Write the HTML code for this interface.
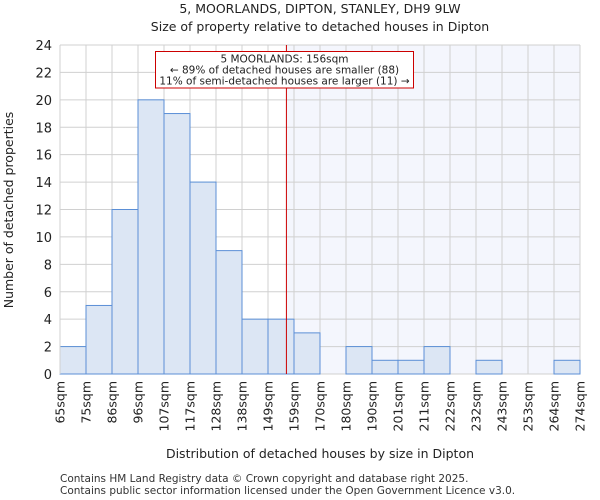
<!DOCTYPE html>
<html><head><meta charset="utf-8"><style>
body{margin:0;background:#fff;}
svg{display:block;font-family:"DejaVu Sans","Liberation Sans",sans-serif;}
</style></head><body>
<svg id="chart" width="600" height="500">
<text x="320" y="13" text-anchor="middle" font-size="12.5" fill="#222">5, MOORLANDS, DIPTON, STANLEY, DH9 9LW</text>
<text x="320" y="31" text-anchor="middle" font-size="12.5" fill="#222">Size of property relative to detached houses in Dipton</text>
<g id="plot"></g>
<text x="320" y="458" text-anchor="middle" font-size="12.5" fill="#222">Distribution of detached houses by size in Dipton</text>
<text transform="translate(13,210) rotate(-90)" text-anchor="middle" font-size="12.5" fill="#222">Number of detached properties</text>
<text x="60" y="482" font-size="10.5" fill="#333">Contains HM Land Registry data © Crown copyright and database right 2025.</text>
<text x="60" y="494" font-size="10.5" fill="#333">Contains public sector information licensed under the Open Government Licence v3.0.</text>
</svg>
<script>
const binLabels=["65sqm","75sqm","86sqm","96sqm","107sqm","117sqm","128sqm","138sqm","149sqm","159sqm","170sqm","180sqm","190sqm","201sqm","211sqm","222sqm","232sqm","243sqm","253sqm","264sqm","274sqm"];
const counts=[2,5,12,20,19,14,9,4,4,3,0,2,1,1,2,0,1,0,0,1];
const yTicks=[0,2,4,6,8,10,12,14,16,18,20,22,24];
const xMin=65, xMax=274, markerValue=156;
const L=60,R=580,T=45,B=374,yMax=24;
const NS="http://www.w3.org/2000/svg";
const g=document.getElementById('plot');
const xs=v=>L+(v-xMin)/(xMax-xMin)*(R-L);
const xi=i=>L+i*(R-L)/counts.length;
const ys=v=>B-v/yMax*(B-T);
function mk(t,a){const e=document.createElementNS(NS,t);for(const k in a)e.setAttribute(k,a[k]);g.appendChild(e);return e;}
const mx=xs(markerValue);
let e=mk('rect',{x:mx,y:T,width:R-mx,height:B-T,fill:'#f4f6fd'});


yTicks.forEach(v=>{
 let l=mk('line',{x1:L,x2:R,y1:ys(v),y2:ys(v),stroke:'#d0d0d0','stroke-width':1});
 
 
 let t=mk('text',{x:L-8,y:ys(v)+5,'text-anchor':'end','font-size':13,fill:'#222'});
 t.textContent=v;
 
 
});
binLabels.forEach((s,i)=>{
 const x=xi(i);
 let l=mk('line',{x1:x,x2:x,y1:T,y2:B,stroke:'#d0d0d0','stroke-width':1});
 
 
 let t=mk('text',{transform:`translate(${x+4.5},381) rotate(-90)`,'text-anchor':'end','font-size':12.5,fill:'#222'});
 t.textContent=s;
 
 
});
counts.forEach((c,i)=>{
 if(c<=0)return;
 let r=mk('rect',{x:xi(i),y:ys(c),width:xi(i+1)-xi(i),height:B-ys(c),fill:'#dce6f4',stroke:'#5b8fd6','stroke-width':1});
 
 
});
e=mk('line',{x1:mx,x2:mx,y1:T,y2:B,stroke:'#cc0000','stroke-width':1});


e=mk('rect',{x:155.5,y:51.5,width:258,height:36.5,fill:'#fff',stroke:'#cc0000','stroke-width':1});


["5 MOORLANDS: 156sqm","← 89% of detached houses are smaller (88)","11% of semi-detached houses are larger (11) →"].forEach((s,k)=>{
 let t=mk('text',{x:284.5,y:62.5+k*11,'text-anchor':'middle','font-size':10.5,fill:'#222'});
 t.textContent=s;
 
 
});
e=mk('line',{x1:L,x2:L,y1:T,y2:B,stroke:'#d0d0d0'});


</script>
</body></html>
